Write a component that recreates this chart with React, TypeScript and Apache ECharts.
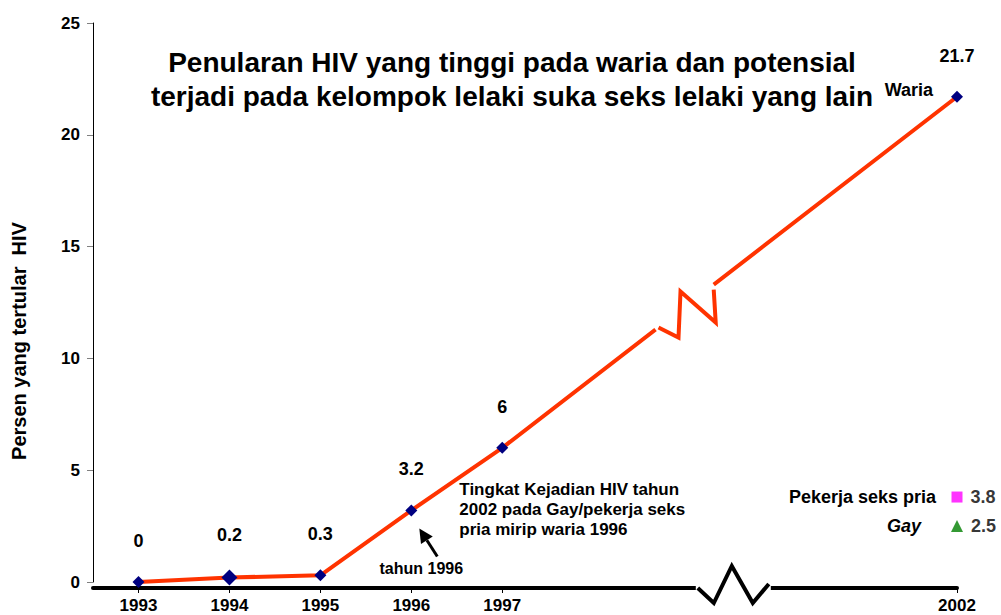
import React, { useEffect, useRef } from 'react';
import * as echarts from 'echarts';

// ---- data ----
const years = [1993, 1994, 1995, 1996, 1997, 2002];
const wariaValues = [0, 0.2, 0.3, 3.2, 6, 21.7];
const wariaName = 'Waria';
const pekerjaName = 'Pekerja seks pria';
const pekerjaPoint = [2002, 3.8];
const gayName = 'Gay';
const gayPoint = [2002, 2.5];
const titleLines = [
  'Penularan HIV yang tinggi pada waria dan potensial',
  'terjadi pada kelompok lelaki suka seks lelaki yang lain',
];
const yAxisTitle = 'Persen yang tertular  HIV';
const noteLines = ['Tingkat Kejadian HIV tahun', '2002 pada Gay/pekerja seks', 'pria mirip waria 1996'];
const arrowLabel = 'tahun 1996';

const FONT = '"Liberation Sans", Arial, Helvetica, sans-serif';

function txt(text: string, x: number, y: number, size: number, align = 'center', extra: any = {}) {
  const { fontStyle, ...rest } = extra;
  return {
    type: 'text',
    x,
    y,
    z: 100,
    ...rest,
    style: {
      text,
      fontSize: size,
      fontWeight: 'bold',
      fontFamily: FONT,
      fontStyle: fontStyle || 'normal',
      fill: '#000',
      textAlign: align,
      align,
      textVerticalAlign: 'middle',
      verticalAlign: 'middle',
    },
  };
}

export default function App() {
  const ref = useRef<HTMLDivElement>(null);
  useEffect(() => {
    if (!ref.current) return;
    const chart = echarts.init(ref.current, null, { renderer: 'svg' });
    const labelStyle = { fontWeight: 'bold' as const, fontSize: 18, color: '#000', fontFamily: FONT };
    const option: any = {
      animation: false,
      backgroundColor: '#fff',
      textStyle: { fontFamily: FONT },
      grid: { left: 93, right: 44, top: 23, bottom: 33 },
      xAxis: {
        type: 'value',
        min: 1992.5,
        max: 2002,
        offset: 6,
        splitLine: { show: false },
        axisLine: { show: true, onZero: false, lineStyle: { color: '#000', width: 4 } },
        axisTick: { show: true, customValues: years, length: 5, lineStyle: { color: '#000', width: 1 } },
        axisLabel: {
          customValues: years,
          formatter: (v: number) => String(v),
          fontWeight: 'bold',
          fontSize: 17,
          color: '#000',
          margin: 9,
          fontFamily: FONT,
        },
      },
      yAxis: {
        type: 'value',
        min: 0,
        max: 25,
        interval: 5,
        splitLine: { show: false },
        axisLine: { show: true, onZero: false, lineStyle: { color: '#000', width: 1 } },
        axisTick: { show: true, length: 6, lineStyle: { color: '#808080', width: 1 } },
        axisLabel: { fontWeight: 'bold', fontSize: 17, color: '#000', margin: 13, fontFamily: FONT },
      },
      series: [
        {
          type: 'line',
          name: wariaName,
          data: years.map((y, i) => [y, wariaValues[i]]),
          symbol: 'diamond',
          symbolSize: (_v: any, p: any) => (p.dataIndex === 1 ? 16 : 12),
          itemStyle: { color: '#000080' },
          lineStyle: { color: '#FF3300', width: 4 },
          label: { show: true, position: 'top', distance: 26, formatter: (p: any) => String(p.value[1]), ...labelStyle },
          z: 3,
        },
        {
          type: 'scatter',
          name: pekerjaName,
          data: [pekerjaPoint],
          symbol: 'rect',
          symbolSize: 11,
          itemStyle: { color: '#FF00FF' },
          label: { show: true, position: 'right', distance: 8, formatter: (p: any) => String(p.value[1]), ...labelStyle },
        },
        {
          type: 'scatter',
          name: gayName,
          data: [gayPoint],
          symbol: 'triangle',
          symbolSize: 12,
          itemStyle: { color: '#008000' },
          label: { show: true, position: 'right', distance: 8, formatter: (p: any) => String(p.value[1]), ...labelStyle },
        },
      ],
    };
    chart.setOption(option);

    const px = (v: number[]) => chart.convertToPixel({ seriesIndex: 0 }, v) as number[];
    const p96 = px([1996, wariaValues[3]]);
    const p97 = px([1997, wariaValues[4]]);
    const p02 = px([2002, wariaValues[5]]);
    const pPek = px(pekerjaPoint);
    const pGay = px(gayPoint);
    const zeroY = px([1993, 0])[1];
    const axisY = zeroY + 6;

    // break in the data line
    const along = (t: number) => [p97[0] + (p02[0] - p97[0]) * t, p97[1] + (p02[1] - p97[1]) * t];
    const S = along(0.337);
    const E = along(0.465);
    const lineZig = [
      [S[0] + 3, S[1] - 2],
      [S[0] + 23, S[1] + 8],
      [S[0] + 25, S[1] - 38],
      [E[0] + 2, E[1] + 38],
      [E[0], E[1] + 5],
    ];

    // break in the x axis
    const bx = p97[0] + (p02[0] - p97[0]) * 0.43;
    const axisZig = [
      [bx, axisY],
      [bx + 16, axisY + 15],
      [bx + 34, axisY - 22],
      [bx + 55, axisY + 15],
      [bx + 71, axisY - 4],
    ];

    // arrow
    const tip = [p96[0] + 8, p96[1] + 18];
    const tail = [p96[0] + 26, p96[1] + 46];
    const dx = tip[0] - tail[0];
    const dy = tip[1] - tail[1];
    const len = Math.sqrt(dx * dx + dy * dy);
    const ux = dx / len;
    const uy = dy / len;
    const hl = 14;
    const hw = 7;
    const base = [tip[0] - ux * hl, tip[1] - uy * hl];
    const head = [
      tip,
      [base[0] - uy * hw, base[1] + ux * hw],
      [base[0] + uy * hw, base[1] - ux * hw],
    ];

    const elements: any[] = [
      txt(titleLines[0], 512, 62, 28),
      txt(titleLines[1], 512, 96, 28),
      txt(yAxisTitle, 19, 341, 20, 'center', { rotation: Math.PI / 2 }),
      txt(wariaName, p02[0] - 24, p02[1] - 7, 18, 'right'),
      txt(pekerjaName, pPek[0] - 21, pPek[1], 18, 'right'),
      txt(gayName, pGay[0] - 36, pGay[1], 18, 'right', { fontStyle: 'italic' }),
      // line break
      { type: 'polyline', z: 100, shape: { points: [S, E] }, style: { stroke: '#fff', lineWidth: 9, fill: null } },
      { type: 'polyline', z: 101, shape: { points: lineZig }, style: { stroke: '#FF3300', lineWidth: 4, fill: null } },
      // axis break
      { type: 'rect', z: 100, shape: { x: bx - 2, y: axisY - 4, width: 75, height: 10 }, style: { fill: '#fff' } },
      { type: 'polyline', z: 101, shape: { points: axisZig }, style: { stroke: '#000', lineWidth: 4, fill: null } },
      // arrow
      { type: 'line', z: 100, shape: { x1: tail[0], y1: tail[1], x2: base[0], y2: base[1] }, style: { stroke: '#000', lineWidth: 3 } },
      { type: 'polygon', z: 100, shape: { points: head }, style: { fill: '#000' } },
      txt(arrowLabel, p96[0] + 10, p96[1] + 58, 16),
      ...noteLines.map((l, i) => txt(l, p96[0] + 48, p96[1] - 21 + i * 20, 17, 'left')),
    ];
    chart.setOption({ graphic: { elements } });

    return () => chart.dispose();
  }, []);
  return <div ref={ref} style={{ position: 'absolute', left: 0, top: 0, width: 1001, height: 615 }} />;
}
